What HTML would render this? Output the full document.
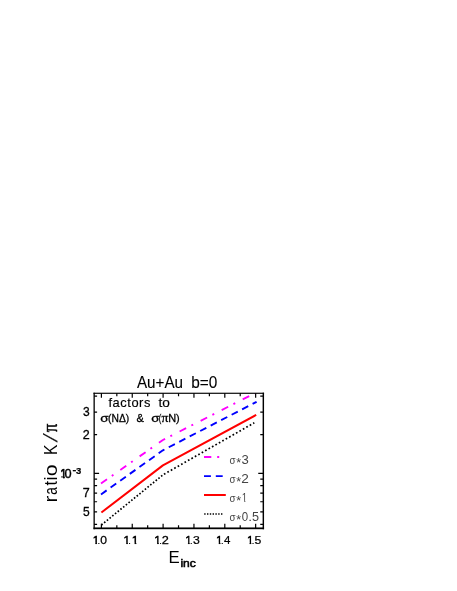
<!DOCTYPE html>
<html><head><meta charset="utf-8"><title>plot</title>
<style>
html,body{margin:0;padding:0;background:#fff;}
body{width:457px;height:591px;overflow:hidden;font-family:"Liberation Sans",sans-serif;}
svg{display:block;will-change:transform;}
text{font-family:"Liberation Sans",sans-serif;}
.s{font-family:"Liberation Serif",serif;}
</style></head><body>
<svg width="457" height="591" viewBox="0 0 457 591">
<rect width="457" height="591" fill="#fff"/>

<defs><clipPath id="c"><rect x="94.1" y="393.15" width="169.15" height="135.14999999999998"/></clipPath><clipPath id="one"><path d="M0.3,-8H3.7V0.2H2.3V-0.95H0.3Z"/></clipPath></defs>
<g clip-path="url(#c)" fill="none" stroke-linejoin="round">
<polyline points="101.0,483.5 162.9,440.0 256.0,392.6" stroke="#ff00ff" stroke-width="1.9" stroke-dasharray="7.3,5.9,2,8.4"/>
<polyline points="101.0,494.4 162.9,450.3 256.6,401.8" stroke="#0000ff" stroke-width="1.9" stroke-dasharray="6.9,4.9"/>
<polyline points="101.4,512.5 162.9,465.4 256.2,414.9" stroke="#ff0000" stroke-width="2.0"/>
<line x1="101.4" y1="525.0" x2="162.9" y2="474.9" stroke="#000" stroke-width="1.7" stroke-dasharray="1.6,1.9"/>
<line x1="162.9" y1="474.9" x2="254.3" y2="422.8" stroke="#000" stroke-width="1.7" stroke-dasharray="1.7,2.25" stroke-dashoffset="-1.2"/>
</g>
<g fill="none">
<line x1="204" y1="457" x2="226" y2="457" stroke="#ff00ff" stroke-width="1.9" stroke-dasharray="7.3,5.9,2,8.4"/>
<line x1="204" y1="476.1" x2="226" y2="476.1" stroke="#0000ff" stroke-width="1.9" stroke-dasharray="6.9,4.9"/>
<line x1="204" y1="495.0" x2="225.8" y2="495.0" stroke="#ff0000" stroke-width="2.0"/>
<line x1="204.2" y1="513.9" x2="223" y2="513.9" stroke="#000" stroke-width="1.5" stroke-dasharray="1.4,1.4"/>
</g>
<g fill="#000">
<rect x="93.5" y="392.7" width="1.3" height="136.55"/>
<rect x="262.6" y="392.7" width="1.45" height="136.55"/>
<rect x="93.5" y="392.7" width="170.55" height="1.15"/>
<rect x="93.5" y="527.45" width="170.55" height="1.75"/>
</g>
<path d="M101.40,528.3v-4.6M101.40,393.15v4.6M116.83,528.3v-3.0M116.83,393.15v3.0M132.25,528.3v-4.6M132.25,393.15v4.6M147.67,528.3v-3.0M147.67,393.15v3.0M163.10,528.3v-4.6M163.10,393.15v4.6M178.53,528.3v-3.0M178.53,393.15v3.0M193.95,528.3v-4.6M193.95,393.15v4.6M209.38,528.3v-3.0M209.38,393.15v3.0M224.80,528.3v-4.6M224.80,393.15v4.6M240.22,528.3v-3.0M240.22,393.15v3.0M255.65,528.3v-4.6M255.65,393.15v4.6M94.1,524.32h3.0M263.25,524.32h-3.0M94.1,511.89h3.0M263.25,511.89h-3.0M94.1,501.74h3.0M263.25,501.74h-3.0M94.1,493.16h3.0M263.25,493.16h-3.0M94.1,485.72h3.0M263.25,485.72h-3.0M94.1,479.17h3.0M263.25,479.17h-3.0M94.1,473.30h5.0M263.25,473.30h-5.0M94.1,434.71h3.0M263.25,434.71h-3.0M94.1,412.13h3.0M263.25,412.13h-3.0M94.1,396.12h3.0M263.25,396.12h-3.0" stroke="#000" stroke-width="1.2" fill="none"/>
<text transform="matrix(0.9523,0,-0.0000,1,136.92,388.10)" font-size="15.99" fill="#000" stroke="#000" stroke-width="0.1">Au+Au</text>
<text transform="matrix(0.9764,0,-0.0000,1,191.21,388.10)" font-size="15.75" fill="#000" stroke="#000" stroke-width="0.1">b=0</text>
<text transform="matrix(1.0800,0,-0.0000,1,108.42,406.60)" font-size="11.88" letter-spacing="0.537" fill="#000" stroke="#000" stroke-width="0.15">factors</text>
<text transform="matrix(1.0800,0,-0.0000,1,158.59,406.60)" font-size="12.68" letter-spacing="-0.131" fill="#000" stroke="#000" stroke-width="0.15">to</text>
<text transform="matrix(1.1563,0,-0.0000,1,100.33,422.30)" font-size="11.74" fill="#000" stroke="#000" stroke-width="0.3">σ</text>
<text transform="matrix(0.8857,0,-0.0000,1,108.06,422.30)" font-size="11.63" fill="#000" stroke="#000" stroke-width="0.3">(NΔ)</text>
<text transform="matrix(0.9426,0,-0.0000,1,136.61,422.30)" font-size="11.71" fill="#000" stroke="#000" stroke-width="0.3">&amp;</text>
<text transform="matrix(1.1411,0,-0.0000,1,151.24,422.30)" font-size="11.74" fill="#000" stroke="#000" stroke-width="0.3">σ</text>
<text transform="matrix(0.6487,0,-0.0000,1,158.83,422.30)" font-size="11.63" fill="#000" stroke="#000" stroke-width="0.3">(</text>
<text transform="matrix(1.0273,0,-0.0000,1,161.61,422.30)" font-size="13.29" class="s" fill="#000" stroke="#000" stroke-width="0.3">π</text>
<text transform="matrix(0.9439,0,-0.0000,1,168.20,422.30)" font-size="11.63" fill="#000" stroke="#000" stroke-width="0.3">N)</text>
<text transform="matrix(0.8292,0,-0.0000,1,229.54,463.75)" font-size="11.74" fill="#444">σ</text>
<text transform="matrix(1.0072,0,-0.0000,1,236.30,467.15)" font-size="12.50" fill="#444">*</text>
<text transform="matrix(0.8292,0,-0.0000,1,229.54,482.60)" font-size="11.74" fill="#444">σ</text>
<text transform="matrix(1.0072,0,-0.0000,1,236.30,486.00)" font-size="12.50" fill="#444">*</text>
<text transform="matrix(0.8292,0,-0.0000,1,229.54,501.60)" font-size="11.74" fill="#444">σ</text>
<text transform="matrix(1.0072,0,-0.0000,1,236.30,505.00)" font-size="12.50" fill="#444">*</text>
<text transform="matrix(1.0935,0,-0.0000,1,241.40,463.75)" font-size="11.96" fill="#444">3</text>
<text transform="matrix(1.1180,0,-0.0000,1,241.22,482.60)" font-size="12.17" fill="#444">2</text>
<g transform="matrix(0.9850,0,0,1.2137,241.85,501.60)" clip-path="url(#one)"><text font-size="10" fill="#444">1</text></g>
<text transform="matrix(0.8292,0,-0.0000,1,229.54,520.60)" font-size="11.74" fill="#444">σ</text>
<text transform="matrix(1.0072,0,-0.0000,1,236.30,524.00)" font-size="12.50" fill="#444">*</text>
<text transform="matrix(0.9451,0,-0.0000,1,241.65,520.60)" font-size="12.17" fill="#444">0</text>
<text transform="matrix(1.2167,0,-0.0000,1,248.15,520.60)" font-size="11.22" fill="#444">.</text>
<text transform="matrix(1.0396,0,-0.0000,1,251.89,520.60)" font-size="12.17" fill="#444">5</text>
<g transform="matrix(1.1902,0,0,1.1483,92.66,543.90)" clip-path="url(#one)"><text font-size="10" fill="#000" stroke="#000" stroke-width="0.45">1</text></g>
<text transform="matrix(0.9626,0,-0.0000,1,97.49,543.90)" font-size="9.82" fill="#000" stroke="#000" stroke-width="0.2">.</text>
<text transform="matrix(1.0724,0,-0.0000,1,100.33,543.90)" font-size="11.31" fill="#000" stroke="#000" stroke-width="0.25">0</text>
<g transform="matrix(1.1902,0,0,1.1483,123.51,543.90)" clip-path="url(#one)"><text font-size="10" fill="#000" stroke="#000" stroke-width="0.45">1</text></g>
<text transform="matrix(0.9626,0,-0.0000,1,128.34,543.90)" font-size="9.82" fill="#000" stroke="#000" stroke-width="0.2">.</text>
<g transform="matrix(1.2313,0,0,1.1483,131.82,543.90)" clip-path="url(#one)"><text font-size="10" fill="#000" stroke="#000" stroke-width="0.45">1</text></g>
<g transform="matrix(1.1902,0,0,1.1483,154.36,543.90)" clip-path="url(#one)"><text font-size="10" fill="#000" stroke="#000" stroke-width="0.45">1</text></g>
<text transform="matrix(0.9626,0,-0.0000,1,159.19,543.90)" font-size="9.82" fill="#000" stroke="#000" stroke-width="0.2">.</text>
<text transform="matrix(1.1253,0,-0.0000,1,161.86,543.90)" font-size="11.31" fill="#000" stroke="#000" stroke-width="0.25">2</text>
<g transform="matrix(1.1902,0,0,1.1483,185.21,543.90)" clip-path="url(#one)"><text font-size="10" fill="#000" stroke="#000" stroke-width="0.45">1</text></g>
<text transform="matrix(0.9626,0,-0.0000,1,190.04,543.90)" font-size="9.82" fill="#000" stroke="#000" stroke-width="0.2">.</text>
<text transform="matrix(1.0812,0,-0.0000,1,192.88,543.90)" font-size="11.31" fill="#000" stroke="#000" stroke-width="0.25">3</text>
<g transform="matrix(1.1902,0,0,1.1483,216.06,543.90)" clip-path="url(#one)"><text font-size="10" fill="#000" stroke="#000" stroke-width="0.45">1</text></g>
<text transform="matrix(0.9626,0,-0.0000,1,220.89,543.90)" font-size="9.82" fill="#000" stroke="#000" stroke-width="0.2">.</text>
<text transform="matrix(1.0173,0,-0.0000,1,223.94,543.90)" font-size="11.31" fill="#000" stroke="#000" stroke-width="0.25">4</text>
<g transform="matrix(1.1902,0,0,1.1483,246.91,543.90)" clip-path="url(#one)"><text font-size="10" fill="#000" stroke="#000" stroke-width="0.45">1</text></g>
<text transform="matrix(0.9626,0,-0.0000,1,251.74,543.90)" font-size="9.82" fill="#000" stroke="#000" stroke-width="0.2">.</text>
<text transform="matrix(1.0812,0,-0.0000,1,254.56,543.90)" font-size="11.31" fill="#000" stroke="#000" stroke-width="0.25">5</text>
<text transform="matrix(0.9993,0,-0.0000,1,83.04,416.33)" font-size="12.03" fill="#000" stroke="#000" stroke-width="0.3">3</text>
<text transform="matrix(1.0400,0,-0.0000,1,82.87,438.91)" font-size="12.03" fill="#000" stroke="#000" stroke-width="0.3">2</text>
<text transform="matrix(1.0423,0,-0.0000,1,82.86,497.36)" font-size="12.03" fill="#000" stroke="#000" stroke-width="0.3">7</text>
<text transform="matrix(0.9993,0,-0.0000,1,83.02,516.09)" font-size="12.03" fill="#000" stroke="#000" stroke-width="0.3">5</text>
<g transform="matrix(1.1081,0,0,1.2355,60.53,478.40)" clip-path="url(#one)"><text font-size="10" fill="#000" stroke="#000" stroke-width="0.7">1</text></g>
<text transform="matrix(1.0482,0,-0.0000,1,64.60,478.40)" font-size="12.17" fill="#000" stroke="#000" stroke-width="0.4">0</text>
<text transform="matrix(1.3437,0,-0.0000,1,72.45,473.25)" font-size="8.50" font-weight="bold" fill="#000" stroke="#000" stroke-width="0.2">-</text>
<text transform="matrix(1.1383,0,-0.0000,1,76.08,474.00)" font-size="8.31" font-weight="bold" fill="#000" stroke="#000" stroke-width="0.2">3</text>
<text transform="matrix(0.9707,0,-0.0000,1,168.42,563.30)" font-size="17.30" fill="#000">E</text>
<text transform="matrix(1.1658,0,-0.0000,1,180.39,567.30)" font-size="10.35" fill="#000" stroke="#000" stroke-width="0.5">inc</text>
<g transform="translate(56.96,0) rotate(-90)">
<text transform="matrix(1.1005,0,-0.0000,1,-502.38,0.00)" font-size="18.90" fill="#000">r</text>
<text transform="matrix(0.7262,0,-0.0000,1,-494.83,0.00)" font-size="18.90" fill="#000">a</text>
<text transform="matrix(0.8495,0,-0.0000,1,-485.54,0.00)" font-size="18.90" fill="#000">t</text>
<text transform="matrix(0.8428,0,-0.0000,1,-480.32,0.00)" font-size="18.90" fill="#000">i</text>
<text transform="matrix(1.1318,0,-0.0000,1,-476.20,0.00)" font-size="18.90" fill="#000">o</text>
<text transform="matrix(0.8327,0,-0.0000,1,-454.99,0.00)" font-size="18.84" fill="#000">K</text>
<text transform="matrix(0.9220,0,-0.3000,1,-442.20,0.20)" font-size="19.13" fill="#000" stroke="#000" stroke-width="0.3">/</text>
<text transform="matrix(0.8169,0,-0.0000,1,-432.33,0.00)" font-size="20.83" class="s" fill="#000" stroke="#000" stroke-width="0.45">π</text>
</g>
</svg></body></html>
